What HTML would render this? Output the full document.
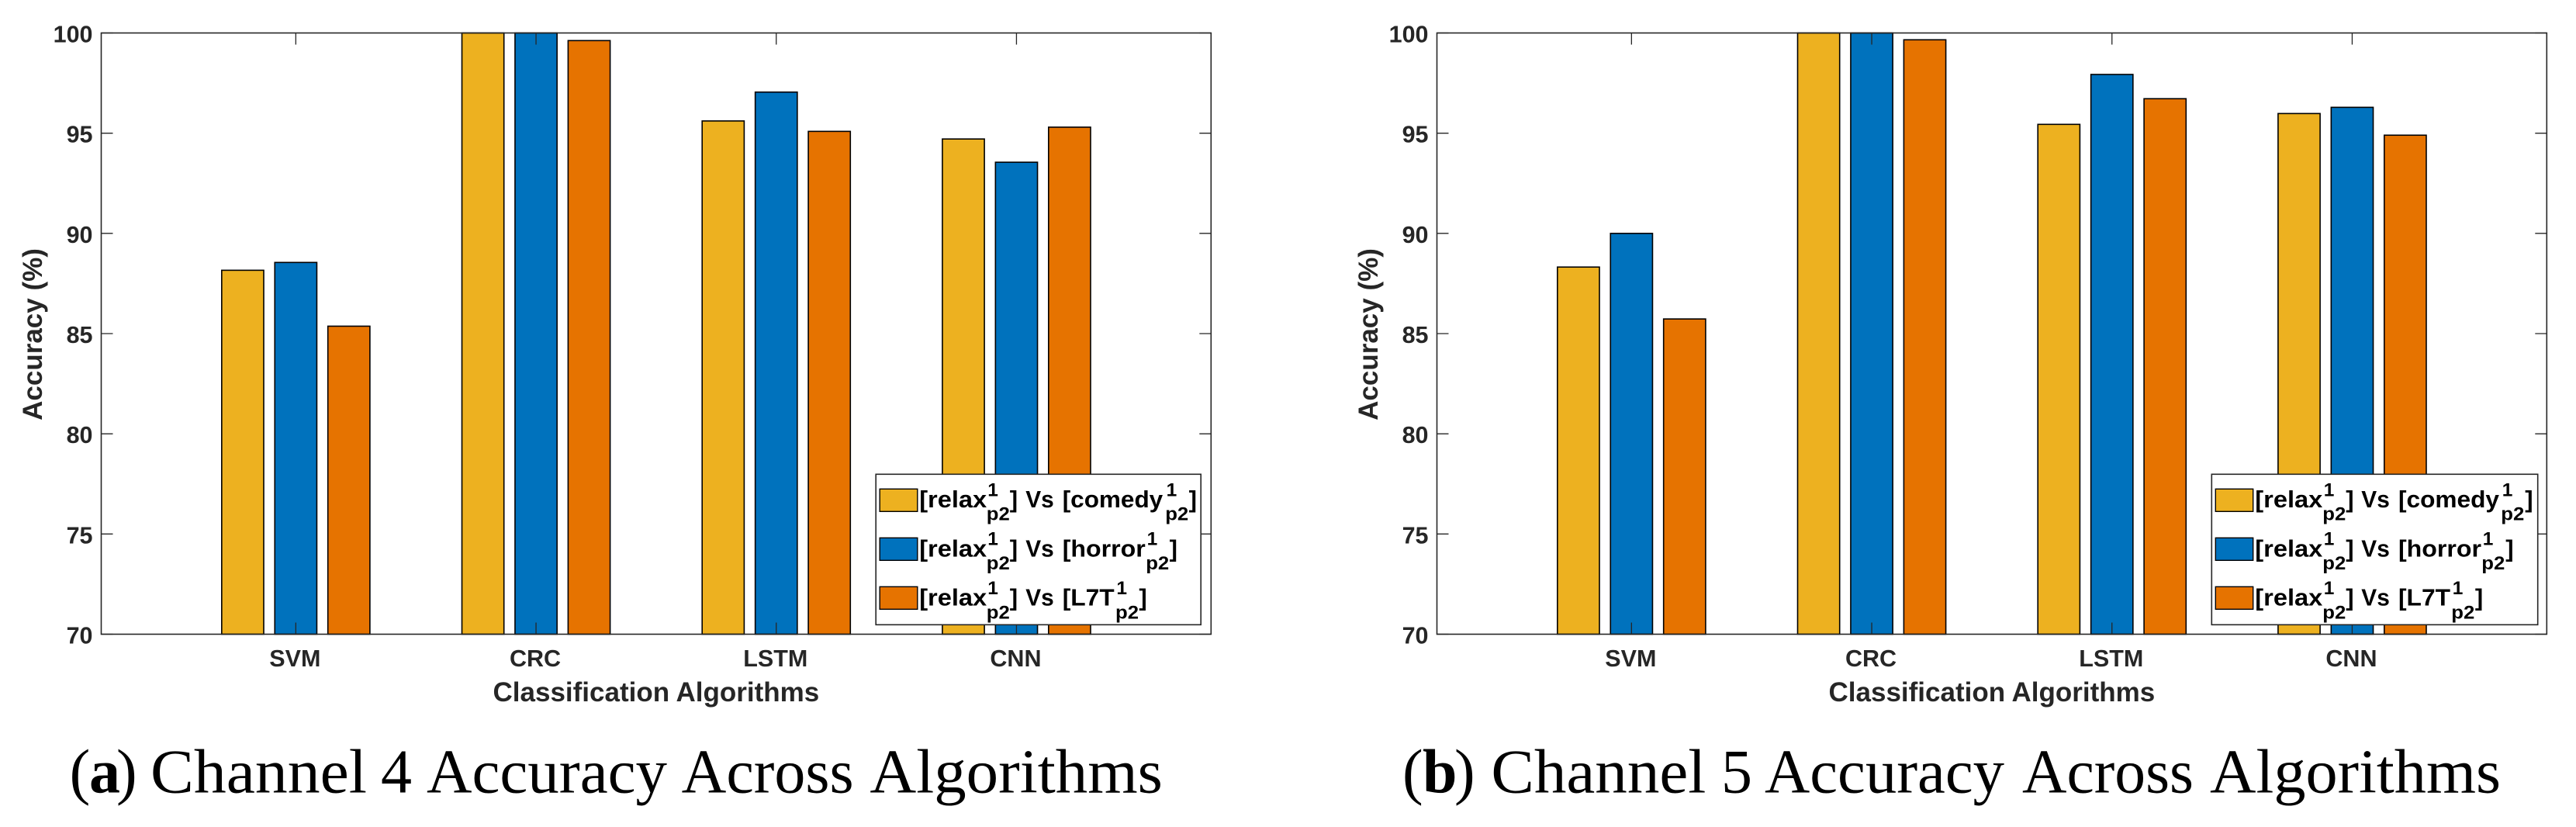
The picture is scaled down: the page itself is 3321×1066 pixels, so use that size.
<!DOCTYPE html>
<html lang="en">
<head>
<meta charset="utf-8">
<title>Channel Accuracy Across Algorithms</title>
<style>
html,body{margin:0;padding:0;background:#fff;width:3321px;height:1066px;overflow:hidden}
svg{display:block;position:absolute;left:0;top:0}
.sans{font-family:"Liberation Sans",Arial,sans-serif;font-weight:bold}
.tick-label{font-size:30.5px;fill:#262626}
.axis-title{font-size:35px;fill:#262626}
.lg{font-size:31px;fill:#000}
.lg-s{font-size:24.5px;fill:#000}
.caption{font-family:"Liberation Serif",serif;font-size:80px;fill:#000}
</style>
</head>
<body>
<svg xmlns="http://www.w3.org/2000/svg" width="3321" height="1066" viewBox="0 0 3321 1066">
  <rect width="3321" height="1066" fill="#fff"/>

  <g id="chart-a"></g>
  <g transform="translate(1129.2,611.3)">
    <rect x="0" y="0" width="419" height="194" fill="#fff" stroke="#262626" stroke-width="1.6"/>
    <g>
      <rect x="5" y="19" width="48.6" height="29" fill="#EDB120" stroke="#000" stroke-width="1.4"/>
      <text class="sans lg" y="42.7"><tspan x="56" textLength="87" lengthAdjust="spacingAndGlyphs">[relax</tspan><tspan class="lg-s" x="144" y="28">1</tspan><tspan class="lg-s" x="142.6" y="59.4" textLength="30" lengthAdjust="spacingAndGlyphs">p2</tspan><tspan x="172.6" y="42.7">]</tspan><tspan x="193" textLength="36.5" lengthAdjust="spacingAndGlyphs">Vs</tspan><tspan x="240.5" textLength="129.5" lengthAdjust="spacingAndGlyphs">[comedy</tspan><tspan class="lg-s" x="374.4" y="28">1</tspan><tspan class="lg-s" x="373" y="59.4" textLength="30" lengthAdjust="spacingAndGlyphs">p2</tspan><tspan x="403.4" y="42.7">]</tspan></text>
    </g>
    <g>
      <rect x="5" y="82" width="48.6" height="29" fill="#0072BD" stroke="#000" stroke-width="1.4"/>
      <text class="sans lg" y="106"><tspan x="56" textLength="87" lengthAdjust="spacingAndGlyphs">[relax</tspan><tspan class="lg-s" x="144" y="91.3">1</tspan><tspan class="lg-s" x="142.6" y="122.7" textLength="30" lengthAdjust="spacingAndGlyphs">p2</tspan><tspan x="172.6" y="106">]</tspan><tspan x="193" textLength="36.5" lengthAdjust="spacingAndGlyphs">Vs</tspan><tspan x="240.5" textLength="107" lengthAdjust="spacingAndGlyphs">[horror</tspan><tspan class="lg-s" x="349.4" y="91.3">1</tspan><tspan class="lg-s" x="348" y="122.7" textLength="30" lengthAdjust="spacingAndGlyphs">p2</tspan><tspan x="378.4" y="106">]</tspan></text>
    </g>
    <g>
      <rect x="5" y="145" width="48.6" height="29" fill="#E67300" stroke="#000" stroke-width="1.4"/>
      <text class="sans lg" y="169.3"><tspan x="56" textLength="87" lengthAdjust="spacingAndGlyphs">[relax</tspan><tspan class="lg-s" x="144" y="154.6">1</tspan><tspan class="lg-s" x="142.6" y="186" textLength="30" lengthAdjust="spacingAndGlyphs">p2</tspan><tspan x="172.6" y="169.3">]</tspan><tspan x="193" textLength="36.5" lengthAdjust="spacingAndGlyphs">Vs</tspan><tspan x="240.5" textLength="67" lengthAdjust="spacingAndGlyphs">[L7T</tspan><tspan class="lg-s" x="310.2" y="154.6">1</tspan><tspan class="lg-s" x="308.8" y="186" textLength="30" lengthAdjust="spacingAndGlyphs">p2</tspan><tspan x="339.2" y="169.3">]</tspan></text>
    </g>
  </g>
  <text class="caption" y="1021.7"><tspan x="89.6">(</tspan><tspan x="115" font-weight="bold">a</tspan><tspan x="150">)</tspan> <tspan x="194" textLength="279" lengthAdjust="spacingAndGlyphs">Channel</tspan> <tspan x="491">4</tspan> <tspan x="550" textLength="310" lengthAdjust="spacingAndGlyphs">Accuracy</tspan> <tspan x="878.6" textLength="222" lengthAdjust="spacingAndGlyphs">Across</tspan> <tspan x="1121.4" textLength="377.5" lengthAdjust="spacingAndGlyphs">Algorithms</tspan></text>

  <g id="chart-b"></g>
  <g transform="translate(2851.3,611.3)">
    <rect x="0" y="0" width="420.4" height="194" fill="#fff" stroke="#262626" stroke-width="1.6"/>
    <g>
      <rect x="5" y="19" width="48.4" height="29" fill="#EDB120" stroke="#000" stroke-width="1.4"/>
      <text class="sans lg" y="42.7"><tspan x="56" textLength="87" lengthAdjust="spacingAndGlyphs">[relax</tspan><tspan class="lg-s" x="144.4" y="28">1</tspan><tspan class="lg-s" x="143" y="59.4" textLength="30" lengthAdjust="spacingAndGlyphs">p2</tspan><tspan x="173" y="42.7">]</tspan><tspan x="193" textLength="36.5" lengthAdjust="spacingAndGlyphs">Vs</tspan><tspan x="240.7" textLength="130" lengthAdjust="spacingAndGlyphs">[comedy</tspan><tspan class="lg-s" x="374.4" y="28">1</tspan><tspan class="lg-s" x="373" y="59.4" textLength="30" lengthAdjust="spacingAndGlyphs">p2</tspan><tspan x="404" y="42.7">]</tspan></text>
    </g>
    <g>
      <rect x="5" y="82" width="48.4" height="29" fill="#0072BD" stroke="#000" stroke-width="1.4"/>
      <text class="sans lg" y="106"><tspan x="56" textLength="87" lengthAdjust="spacingAndGlyphs">[relax</tspan><tspan class="lg-s" x="144.4" y="91.3">1</tspan><tspan class="lg-s" x="143" y="122.7" textLength="30" lengthAdjust="spacingAndGlyphs">p2</tspan><tspan x="173" y="106">]</tspan><tspan x="193" textLength="36.5" lengthAdjust="spacingAndGlyphs">Vs</tspan><tspan x="240.7" textLength="107" lengthAdjust="spacingAndGlyphs">[horror</tspan><tspan class="lg-s" x="349.4" y="91.3">1</tspan><tspan class="lg-s" x="348" y="122.7" textLength="30" lengthAdjust="spacingAndGlyphs">p2</tspan><tspan x="379" y="106">]</tspan></text>
    </g>
    <g>
      <rect x="5" y="145" width="48.4" height="29" fill="#E67300" stroke="#000" stroke-width="1.4"/>
      <text class="sans lg" y="169.3"><tspan x="56" textLength="87" lengthAdjust="spacingAndGlyphs">[relax</tspan><tspan class="lg-s" x="144.4" y="154.6">1</tspan><tspan class="lg-s" x="143" y="186" textLength="30" lengthAdjust="spacingAndGlyphs">p2</tspan><tspan x="173" y="169.3">]</tspan><tspan x="193" textLength="36.5" lengthAdjust="spacingAndGlyphs">Vs</tspan><tspan x="240.7" textLength="67" lengthAdjust="spacingAndGlyphs">[L7T</tspan><tspan class="lg-s" x="310.4" y="154.6">1</tspan><tspan class="lg-s" x="309" y="186" textLength="30" lengthAdjust="spacingAndGlyphs">p2</tspan><tspan x="339.6" y="169.3">]</tspan></text>
    </g>
  </g>
  <text class="caption" y="1021.7"><tspan x="1808">(</tspan><tspan x="1834" font-weight="bold">b</tspan><tspan x="1875">)</tspan> <tspan x="1922.4" textLength="277" lengthAdjust="spacingAndGlyphs">Channel</tspan> <tspan x="2219">5</tspan> <tspan x="2275" textLength="309" lengthAdjust="spacingAndGlyphs">Accuracy</tspan> <tspan x="2607" textLength="221" lengthAdjust="spacingAndGlyphs">Across</tspan> <tspan x="2849" textLength="375" lengthAdjust="spacingAndGlyphs">Algorithms</tspan></text>
</svg>

<script>
const categories = ["SVM", "CRC", "LSTM", "CNN"];
const seriesKeys = ["comedy", "horror", "l7t"];
const yTickValues = [70, 75, 80, 85, 90, 95, 100];

const channel4Comedy = [88.16, 100, 95.61, 94.71];
const channel4Horror = [88.55, 100, 97.05, 93.55];
const channel4L7T = [85.37, 99.62, 95.09, 95.30];

const channel5Comedy = [88.32, 100, 95.44, 95.98];
const channel5Horror = [90.00, 100, 97.93, 96.29];
const channel5L7T = [85.73, 99.66, 96.72, 94.90];

const SVG_NS = "http://www.w3.org/2000/svg";
const yMin = 70, yMax = 100;
const xMin = 0.19, xMax = 4.81;
const plotTop = 42.5, plotBottom = 817.5;
const barFill = ["#EDB120", "#0072BD", "#E67300"];
const barGap = 0.221, barSpan = 0.175;

function make(tag, parent) {
  const el = document.createElementNS(SVG_NS, tag);
  parent.appendChild(el);
  return el;
}

function drawChart(root, plotLeft, plotRight, yTitleX, series) {
  const xScale = function (v) { return plotLeft + (v - xMin) / (xMax - xMin) * (plotRight - plotLeft); };
  const yScale = function (v) { return plotBottom - (v - yMin) / (yMax - yMin) * (plotBottom - plotTop); };
  const unit = xScale(1) - xScale(0);

  series.forEach(function (values, s) {
    values.forEach(function (value, c) {
      const centre = xScale(c + 1 + (s - 1) * barGap);
      const top = yScale(Math.min(value, yMax));
      const bar = make("rect", root);
      
      
      bar.setAttribute("x", centre - barSpan * unit / 2);
      bar.setAttribute("y", top);
      bar.setAttribute("width", barSpan * unit);
      bar.setAttribute("height", yScale(yMin) - top);
      bar.setAttribute("fill", barFill[s]);
      bar.setAttribute("stroke", "#000");
      bar.setAttribute("stroke-width", "1.6");
    });
  });

  const box = make("rect", root);
  
  
  box.setAttribute("x", plotLeft);
  box.setAttribute("y", plotTop);
  box.setAttribute("width", plotRight - plotLeft);
  box.setAttribute("height", plotBottom - plotTop);
  box.setAttribute("fill", "none");
  box.setAttribute("stroke", "#262626");
  box.setAttribute("stroke-width", "1.6");

  yTickValues.forEach(function (tick) {
    const y = yScale(tick);
    const marks = make("path", root);
    
    
    marks.setAttribute("d", "M" + plotLeft + " " + y + "h15M" + plotRight + " " + y + "h-15");
    marks.setAttribute("stroke", "#262626");
    marks.setAttribute("stroke-width", "1.3");
    marks.setAttribute("fill", "none");
    const label = make("text", root);
    
    
    label.setAttribute("class", "sans tick-label");
    label.setAttribute("x", plotLeft - 11);
    label.setAttribute("y", y + 12);
    label.setAttribute("text-anchor", "end");
    label.textContent = tick;
  });

  categories.forEach(function (name, c) {
    const x = xScale(c + 1);
    const marks = make("path", root);
    
    
    marks.setAttribute("d", "M" + x + " " + plotTop + "v15M" + x + " " + plotBottom + "v-15");
    marks.setAttribute("stroke", "#262626");
    marks.setAttribute("stroke-width", "1.3");
    marks.setAttribute("fill", "none");
    const label = make("text", root);
    
    
    label.setAttribute("class", "sans tick-label");
    label.setAttribute("x", x - 1);
    label.setAttribute("y", 859);
    label.setAttribute("text-anchor", "middle");
    label.textContent = name;
  });

  const xTitle = make("text", root);
  
  
  xTitle.setAttribute("class", "sans axis-title");
  xTitle.setAttribute("x", (plotLeft + plotRight) / 2);
  xTitle.setAttribute("y", 904);
  xTitle.setAttribute("text-anchor", "middle");
  xTitle.textContent = "Classification Algorithms";

  const yTitle = make("text", root);
  
  
  yTitle.setAttribute("class", "sans axis-title");
  yTitle.setAttribute("transform", "translate(" + yTitleX + ",431) rotate(-90)");
  yTitle.setAttribute("text-anchor", "middle");
  yTitle.textContent = "Accuracy (%)";
}

drawChart(document.getElementById("chart-a"), 130.5, 1561.3, 54, [channel4Comedy, channel4Horror, channel4L7T]);
drawChart(document.getElementById("chart-b"), 1852.5, 3283.3, 1776, [channel5Comedy, channel5Horror, channel5L7T]);
</script>
</body>
</html>
